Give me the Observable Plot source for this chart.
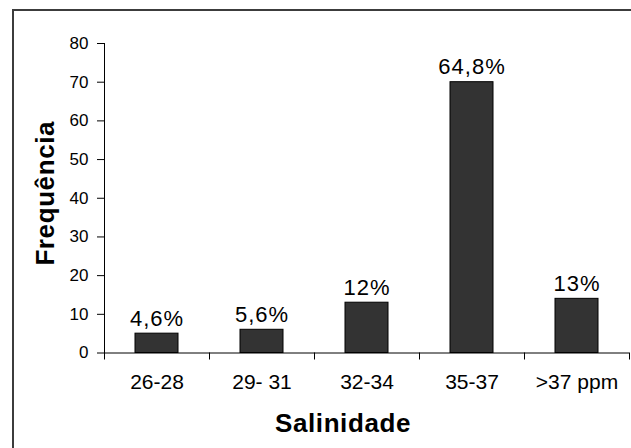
<!DOCTYPE html>
<html><head><meta charset="utf-8">
<script src="https://cdn.jsdelivr.net/npm/d3@7"></script>
<script src="https://cdn.jsdelivr.net/npm/@observablehq/plot@0.6"></script>
<style>
body{margin:0;background:#fff;overflow:hidden}
#wrap{position:relative;width:631px;height:448px;overflow:hidden;background:#fff}
#border{position:absolute;left:12px;top:9px;width:700px;height:600px;border:2px solid #3c3c3c;pointer-events:none}
#wrap svg{position:absolute;left:0;top:0}
</style></head><body><div id="wrap"><div id="border"></div></div>
<script>
const categories = ["26-28", "29- 31", "32-34", "35-37", ">37 ppm"];
const frequencies = [5, 6, 13, 70, 14];
const percentLabels = ["4,6%", "5,6%", "12%", "64,8%", "13%"];
const yTicks = [0, 10, 20, 30, 40, 50, 60, 70, 80];
const xTitle = "Salinidade";
const yTitle = "Frequência";

const data = categories.map((c, i) => ({category: c, value: frequencies[i], label: percentLabels[i]}));
const W = 631, H = 448, mL = 104, mR = 2;
const step = (W - mL - mR) / categories.length;
const font = "Arial, 'Liberation Sans', sans-serif";

const chart = Plot.plot({
  width: W, height: H,
  marginLeft: mL, marginRight: mR, marginTop: 43, marginBottom: 95.5,
  style: {fontFamily: font, color: "#000", background: "transparent", overflow: "visible"},
  x: {domain: categories, paddingInner: 0.59, paddingOuter: 0.295, axis: null},
  y: {domain: [0, 80], axis: null},
  marks: [
    Plot.barY(data, {x: "category", y: "value", fill: "#333", stroke: "#000", strokeWidth: 1}),
    Plot.frame({anchor: "left", stroke: "#000"}),
    Plot.ruleY([0], {stroke: "#000"}),
    Plot.axisY({ticks: yTicks, tickSize: 7, tickPadding: 9, fontSize: 17, label: null, stroke: "#000"}),
    Plot.axisX({tickSize: 0, tickPadding: 21, fontSize: 21, label: null}),
    Plot.axisX({tickSize: 7, dx: -step / 2, tickFormat: () => "", label: null}),
    Plot.axisX({ticks: [categories[categories.length - 1]], tickSize: 7, dx: step / 2, tickFormat: () => "", label: null}),
    Plot.text(data, {x: "category", y: "value", text: "label", lineAnchor: "bottom", dy: -8, fontSize: 22, className: "pct"}),
    Plot.text([xTitle], {frameAnchor: "bottom", lineAnchor: "bottom", dy: 79, dx: -24, fontSize: 26, fontWeight: "bold", className: "ttl"}),
    Plot.text([yTitle], {frameAnchor: "left", textAnchor: "middle", lineAnchor: "middle", rotate: -90, dx: -59, dy: -5, fontSize: 26, fontWeight: "bold", className: "ttl"})
  ]
});
document.getElementById("wrap").appendChild(chart);
d3.select(chart).selectAll(".pct text").style("letter-spacing", "1px");
d3.select(chart).selectAll(".ttl text").style("letter-spacing", "0.6px");
</script></body></html>
